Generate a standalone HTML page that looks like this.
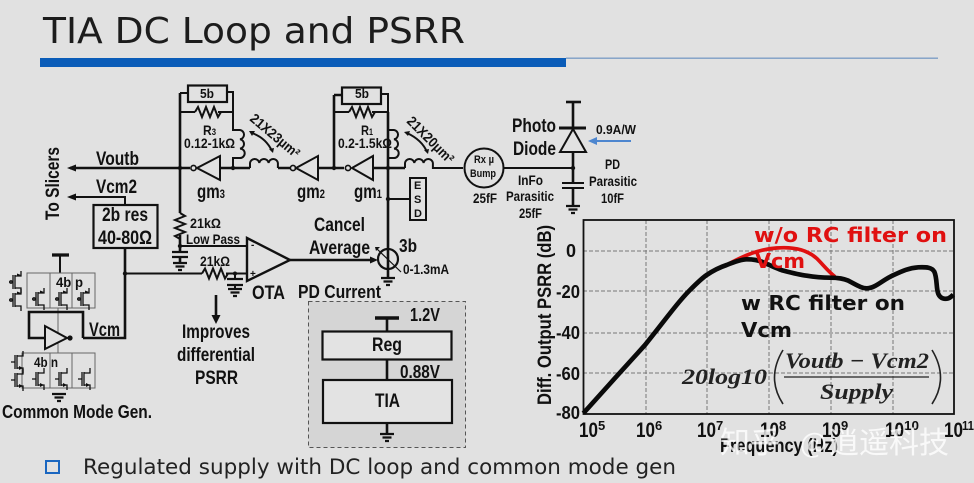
<!DOCTYPE html>
<html><head><meta charset="utf-8"><style>
html,body{margin:0;padding:0;background:#e1e1e1}
svg{display:block}
.n{font-family:"Liberation Sans",sans-serif;font-weight:bold;fill:#111}
.r{font-family:"Liberation Sans",sans-serif;fill:#111;font-weight:bold}
.d{font-family:"DejaVu Sans",sans-serif}
.w{fill:none;stroke:#111;stroke-width:2.6}
.t{fill:none;stroke:#111;stroke-width:2}
.g{fill:none;stroke:#666;stroke-width:1}
</style></head><body>
<svg width="974" height="483" viewBox="0 0 974 483" xmlns="http://www.w3.org/2000/svg">
<defs>
<g id="gnd"><path d="M-7,0H7M-4.500,3.500H4.500M-2,7H2" fill="none" stroke="#111" stroke-width="2.200"/></g>
<path id="res" d="M0,0l3,-5l4,10l4,-10l4,10l4,-10l4,10l3,-5" fill="none" stroke="#111" stroke-width="2"/>
<g id="pm"><path d="M-9,0h3M-5,-7V7M-3,-7V7M-3,-6H3V-11M-3,6H3V11" fill="none" stroke="#111" stroke-width="1.300"/><circle cx="-7" cy="0" r="1.400" fill="none" stroke="#111"/><path d="M3,-7l-4,-1.500v3z" fill="#111"/></g>
<g id="nm"><path d="M-9,0h4M-5,-7V7M-3,-7V7M-3,-6H3V-11M-3,6H3V11" fill="none" stroke="#111" stroke-width="1.300"/><path d="M3,6l-4,-2v4z" fill="#111"/></g>
</defs>
<rect width="974" height="483" fill="#e1e1e1"/>

<text class="d" x="43" y="43" font-size="36" fill="#1c1c1c" textLength="422" lengthAdjust="spacingAndGlyphs">TIA DC Loop and PSRR</text>
<rect x="40" y="58" width="526" height="9" fill="#0a5cb8"/>
<rect x="566" y="57.500" width="372" height="1.400" fill="#7f9fc6"/>

<!-- PD supply box -->
<rect x="308.500" y="301.500" width="157" height="146" fill="#d5d5d5" stroke="#555" stroke-width="1" stroke-dasharray="4 3"/>
<path d="M375,318H399" stroke="#111" stroke-width="3.400"/>
<path class="w" d="M387,318V331M387,359V380M387,423V433"/>
<rect x="322.500" y="331.500" width="129" height="28" fill="#e3e3e3" stroke="#111" stroke-width="2.200"/>
<rect x="323" y="380" width="129" height="43" fill="#e3e3e3" stroke="#111" stroke-width="2.200"/>
<use href="#gnd" x="387" y="434"/>
<text class="n" x="410" y="321" font-size="18" textLength="30" lengthAdjust="spacingAndGlyphs">1.2V</text>
<text class="n" x="372" y="351" font-size="19" textLength="30" lengthAdjust="spacingAndGlyphs">Reg</text>
<text class="n" x="400" y="378" font-size="18" textLength="40" lengthAdjust="spacingAndGlyphs">0.88V</text>
<text class="n" x="375" y="407" font-size="19" textLength="25" lengthAdjust="spacingAndGlyphs">TIA</text>

<!-- Left stage -->
<rect x="188" y="85.500" width="39" height="16.500" fill="none" stroke="#111" stroke-width="2.200"/>
<path class="t" d="M180,93H188M227,92H233V112M180,112H195M218,112H233"/>
<use href="#res" x="195" y="112"/>
<path class="t" d="M233,112V130H240a4.700,4.700 0 0 1 0,9.300a4.700,4.700 0 0 1 0,9.300a4.700,4.700 0 0 1 0,9.400H233V168"/>
<path class="w" d="M180,93V213M180,235V246M70,168H190"/>
<path d="M67,168l9,-3.500v7z" fill="#111"/>
<circle cx="180" cy="168" r="2.200" fill="#111"/>
<circle cx="193.500" cy="168" r="2.600" fill="#e1e1e1" stroke="#111" stroke-width="1.600"/>
<path d="M197,168L220,156V180Z" fill="none" stroke="#111" stroke-width="2"/>
<path class="w" d="M220,168H250M278,168H292"/>
<circle cx="233" cy="168" r="2.200" fill="#111"/>
<path class="t" d="M250,168V163a4.700,4.700 0 0 1 9.300,0a4.700,4.700 0 0 1 9.300,0a4.700,4.700 0 0 1 9.300,0V168"/>
<circle cx="293" cy="168" r="2.600" fill="#e1e1e1" stroke="#111" stroke-width="1.600"/>
<path d="M296,168L318,156V180Z" fill="none" stroke="#111" stroke-width="2"/>
<path class="w" d="M318,168H344"/>

<!-- Right stage -->
<rect x="342" y="87.500" width="39" height="16.500" fill="none" stroke="#111" stroke-width="2.200"/>
<path class="w" d="M334,95V168M334,95H342"/>
<path class="t" d="M381,94H388V112M334,112H349M372,112H388"/>
<use href="#res" x="349" y="112"/>
<path class="t" d="M388,130H394a4.700,4.700 0 0 1 0,9.300a4.700,4.700 0 0 1 0,9.300a4.700,4.700 0 0 1 0,9.400H388"/>
<circle cx="334" cy="168" r="2.200" fill="#111"/>
<circle cx="348" cy="168" r="2.600" fill="#e1e1e1" stroke="#111" stroke-width="1.600"/>
<path d="M352,168L373,156V180Z" fill="none" stroke="#111" stroke-width="2"/>
<path class="w" d="M373,168H405M388,112V250M388,270V278"/>
<circle cx="388" cy="168" r="2.200" fill="#111"/>
<circle cx="388" cy="199" r="2.200" fill="#111"/>
<path class="t" d="M388,199H410"/>
<rect x="410" y="178" width="16" height="42" fill="none" stroke="#111" stroke-width="2"/>
<path class="t" d="M405,168V163a4.700,4.700 0 0 1 9.300,0a4.700,4.700 0 0 1 9.300,0a4.700,4.700 0 0 1 9.300,0V168H463"/>
<path class="t" d="M503,168H573"/>
<circle cx="484" cy="168" r="19.500" fill="none" stroke="#111" stroke-width="2"/>

<!-- Photo diode -->
<path class="w" d="M573,102V128M573,152V183M573,188V205"/>
<path d="M566,102H581" stroke="#111" stroke-width="2.600"/>
<path d="M559,128H586" stroke="#111" stroke-width="3"/>
<path d="M573,129L560,152H586Z" fill="none" stroke="#111" stroke-width="2"/>
<path d="M562,183H584M562,188H584" stroke="#111" stroke-width="2"/>
<circle cx="573" cy="168" r="2.200" fill="#111"/>
<use href="#gnd" x="573" y="206"/>
<path d="M596,141H631" stroke="#4d86cf" stroke-width="2"/>
<path d="M588,141l9,-4v8z" fill="#4d86cf"/>

<!-- Vcm2 / res -->
<path class="t" d="M72,197H125V205"/>
<path d="M67,197l9,-3.500v7z" fill="#111"/>
<rect x="93.500" y="205" width="64" height="43" fill="none" stroke="#111" stroke-width="2.200"/>
<path class="w" d="M125,248V338H83"/>
<circle cx="125" cy="273.500" r="2.200" fill="#111"/>
<path class="t" d="M125,273.500H202M226,273.500H247"/>
<use href="#res" x="202" y="273.500"/>
<use href="#res" transform="translate(180,213) rotate(90)"/>

<!-- Low-pass caps -->
<circle cx="180" cy="246" r="2.200" fill="#111"/>
<path class="t" d="M180,246H247"/>
<path class="w" d="M180,246V251M180,258V262"/>
<path d="M172,252H188M172,257H188" stroke="#111" stroke-width="2.200"/>
<use href="#gnd" x="180" y="263"/>
<circle cx="235" cy="273.500" r="2" fill="#111"/>
<path class="t" d="M235,273.500V279M235,285V289"/>
<path d="M227,279H243M227,285H243" stroke="#111" stroke-width="2.200"/>
<use href="#gnd" x="235" y="289"/>

<!-- OTA -->
<path d="M247,238V281L290,260Z" fill="none" stroke="#111" stroke-width="2.400"/>
<path class="w" d="M290,260H372"/>
<path d="M378,260l-8,-3.500v7z" fill="#111"/>
<text class="n" x="251" y="248" font-size="10">-</text>
<text class="n" x="250" y="277" font-size="10">+</text>
<circle cx="388" cy="259" r="10" fill="none" stroke="#111" stroke-width="2.200"/>
<path d="M388,250V268" stroke="#111" stroke-width="2.600"/>
<path d="M376,248L401,272" stroke="#111" stroke-width="1.200"/>
<path d="M375,247l5,0l-4,4z" fill="#111"/>
<use href="#gnd" x="388" y="278"/>

<!-- Improves arrow -->
<path class="w" d="M216,295V318"/>
<path d="M216,324l-4.500,-9h9z" fill="#111"/>

<!-- Common mode gen -->
<path d="M52,255H69" stroke="#111" stroke-width="3.200"/>
<path class="t" d="M60,255V273"/>
<path class="g" d="M27,273H95V308H27ZM50,273V308M72,273V308M58,308V353"/>
<path class="g" d="M22,353H95V388H22ZM50,353V388M72,353V388"/>
<use href="#pm" x="18" y="282"/><use href="#pm" x="18" y="300"/>
<use href="#pm" x="41" y="299"/><use href="#pm" x="64" y="299"/><use href="#pm" x="86" y="299"/>
<use href="#nm" x="20" y="362"/><use href="#nm" x="20" y="380"/>
<use href="#nm" x="41" y="379"/><use href="#nm" x="64" y="379"/><use href="#nm" x="87" y="379"/>
<path d="M45,326V349L67,338Z" fill="#e1e1e1" stroke="#111" stroke-width="2"/>
<circle cx="70" cy="338" r="2.600" fill="#111"/>
<path class="w" d="M45,338H29V312H83V338"/>
<use href="#gnd" x="59" y="394"/>

<!-- Labels -->
<text class="n" x="96" y="165" font-size="19" textLength="43" lengthAdjust="spacingAndGlyphs">Voutb</text>
<text class="n" x="96" y="193" font-size="19" textLength="41" lengthAdjust="spacingAndGlyphs">Vcm2</text>
<text class="n" transform="translate(59,220) rotate(-90)" font-size="19" textLength="73" lengthAdjust="spacingAndGlyphs">To Slicers</text>
<text class="n" x="102" y="221" font-size="19" textLength="46" lengthAdjust="spacingAndGlyphs">2b res</text>
<text class="n" x="98" y="244" font-size="19" textLength="54" lengthAdjust="spacingAndGlyphs">40-80Ω</text>
<text class="r" x="200" y="98" font-size="13" textLength="14" lengthAdjust="spacingAndGlyphs">5b</text>
<text class="r" x="203" y="135" font-size="14" textLength="13" lengthAdjust="spacingAndGlyphs">R<tspan font-size="9">3</tspan></text>
<text class="r" x="184" y="148" font-size="14" textLength="51" lengthAdjust="spacingAndGlyphs">0.12-1kΩ</text>
<text class="n" x="197" y="198" font-size="19" textLength="28" lengthAdjust="spacingAndGlyphs">gm<tspan font-size="12">3</tspan></text>
<text class="n" x="297" y="198" font-size="19" textLength="28" lengthAdjust="spacingAndGlyphs">gm<tspan font-size="12">2</tspan></text>
<text class="n" x="354" y="198" font-size="19" textLength="28" lengthAdjust="spacingAndGlyphs">gm<tspan font-size="12">1</tspan></text>
<text class="r" x="355" y="98" font-size="13" textLength="14" lengthAdjust="spacingAndGlyphs">5b</text>
<text class="r" x="361" y="135" font-size="14" textLength="12" lengthAdjust="spacingAndGlyphs">R<tspan font-size="9">1</tspan></text>
<text class="r" x="338" y="148" font-size="14" textLength="54" lengthAdjust="spacingAndGlyphs">0.2-1.5kΩ</text>
<text class="r" transform="translate(249,120) rotate(40)" font-size="14" textLength="60" lengthAdjust="spacingAndGlyphs">21X23µm²</text>
<text class="r" transform="translate(406,122) rotate(45)" font-size="14" textLength="60" lengthAdjust="spacingAndGlyphs">21X20µm²</text>
<path class="t" d="M252,133Q266,138 272,151"/>
<path d="M249,131l6,0l-3,5zM273,153l-4,-4l5,-1z" fill="#111"/>
<path class="t" d="M407,133Q422,140 427,152"/>
<path d="M404,132l6,-1l-2,5zM428,154l-4,-4l5,-1z" fill="#111"/>
<text class="r" x="414" y="189" font-size="11">E</text>
<text class="r" x="414" y="203" font-size="11">S</text>
<text class="r" x="414" y="217" font-size="11">D</text>
<text class="r" x="190" y="228" font-size="14" textLength="31" lengthAdjust="spacingAndGlyphs">21kΩ</text>
<text class="r" x="186" y="244" font-size="14" textLength="54" lengthAdjust="spacingAndGlyphs">Low Pass</text>
<text class="r" x="200" y="266" font-size="14" textLength="30" lengthAdjust="spacingAndGlyphs">21kΩ</text>
<text class="n" x="252" y="299" font-size="19" textLength="33" lengthAdjust="spacingAndGlyphs">OTA</text>
<text class="n" x="298" y="298" font-size="18" textLength="83" lengthAdjust="spacingAndGlyphs">PD Current</text>
<text class="n" x="314" y="231" font-size="19" textLength="51" lengthAdjust="spacingAndGlyphs">Cancel</text>
<text class="n" x="309" y="254" font-size="19" textLength="61" lengthAdjust="spacingAndGlyphs">Average</text>
<text class="n" x="399" y="252" font-size="18" textLength="18" lengthAdjust="spacingAndGlyphs">3b</text>
<text class="r" x="403" y="274" font-size="14" textLength="46" lengthAdjust="spacingAndGlyphs">0-1.3mA</text>
<text class="n" x="182" y="338" font-size="19" textLength="68" lengthAdjust="spacingAndGlyphs">Improves</text>
<text class="n" x="177" y="361" font-size="19" textLength="78" lengthAdjust="spacingAndGlyphs">differential</text>
<text class="n" x="195" y="384" font-size="19" textLength="43" lengthAdjust="spacingAndGlyphs">PSRR</text>
<text class="n" x="89" y="336" font-size="19" textLength="31" lengthAdjust="spacingAndGlyphs">Vcm</text>
<text class="r" x="56" y="287" font-size="14" textLength="27" lengthAdjust="spacingAndGlyphs">4b p</text>
<text class="r" x="34" y="367" font-size="14" textLength="24" lengthAdjust="spacingAndGlyphs">4b n</text>
<text class="n" x="2" y="418" font-size="18.500" textLength="150" lengthAdjust="spacingAndGlyphs">Common Mode Gen.</text>
<text class="r" x="474" y="163" font-size="11" textLength="20" lengthAdjust="spacingAndGlyphs">Rx µ</text>
<text class="r" x="470" y="177" font-size="11" textLength="26" lengthAdjust="spacingAndGlyphs">Bump</text>
<text class="r" x="473" y="203" font-size="14" textLength="24" lengthAdjust="spacingAndGlyphs">25fF</text>
<text class="r" x="518" y="185" font-size="14" textLength="25" lengthAdjust="spacingAndGlyphs">InFo</text>
<text class="r" x="506" y="201" font-size="14" textLength="48" lengthAdjust="spacingAndGlyphs">Parasitic</text>
<text class="r" x="519" y="218" font-size="14" textLength="23" lengthAdjust="spacingAndGlyphs">25fF</text>
<text class="n" x="512" y="132" font-size="19" textLength="44" lengthAdjust="spacingAndGlyphs">Photo</text>
<text class="n" x="513" y="155" font-size="19" textLength="43" lengthAdjust="spacingAndGlyphs">Diode</text>
<text class="r" x="596" y="134" font-size="13" textLength="40" lengthAdjust="spacingAndGlyphs">0.9A/W</text>
<text class="r" x="605" y="169" font-size="14" textLength="15" lengthAdjust="spacingAndGlyphs">PD</text>
<text class="r" x="589" y="186" font-size="14" textLength="48" lengthAdjust="spacingAndGlyphs">Parasitic</text>
<text class="r" x="601" y="203" font-size="14" textLength="23" lengthAdjust="spacingAndGlyphs">10fF</text>

<!-- Chart -->
<path d="M646,220V414M707,220V414M769,220V414M831,220V414M893,220V414M583,251H954M583,291H954M583,333H954M583,373H954" fill="none" stroke="#777" stroke-width="1" stroke-dasharray="4 2"/>
<rect x="583.500" y="220" width="370.500" height="194" fill="none" stroke="#111" stroke-width="1.800"/>
<g transform="translate(530,210) scale(.33333)">
<path d="M590,165C630,143 680,118 740,114C790,110 830,118 860,145C880,165 895,185 915,200" fill="none" stroke="#e01010" stroke-width="11"/>
<path d="M160,610L250,510L345,405C375,368 400,335 420,310C445,278 465,255 480,240C500,220 515,205 530,195C555,178 575,170 590,165C615,155 635,148 650,148C670,148 685,150 700,157C725,168 745,178 760,182C790,190 810,195 830,197C860,202 885,203 900,203C925,203 940,205 955,212C980,225 995,235 1010,235C1035,235 1055,212 1085,198C1115,184 1135,174 1165,172C1190,171 1205,172 1213,185C1222,205 1218,235 1225,252C1232,267 1245,268 1255,265C1262,262 1266,258 1270,254" fill="none" stroke="#0a0a0a" stroke-width="14" stroke-linejoin="round"/>
</g>
<text class="n" x="566" y="257" font-size="18">0</text>
<text class="n" x="556" y="298" font-size="18" textLength="24" lengthAdjust="spacingAndGlyphs">-20</text>
<text class="n" x="556" y="339" font-size="18" textLength="24" lengthAdjust="spacingAndGlyphs">-40</text>
<text class="n" x="556" y="380" font-size="18" textLength="24" lengthAdjust="spacingAndGlyphs">-60</text>
<text class="n" x="556" y="419" font-size="18" textLength="24" lengthAdjust="spacingAndGlyphs">-80</text>
<text class="n" x="579" y="437" font-size="21" textLength="19" lengthAdjust="spacingAndGlyphs">10</text><text class="n" x="598" y="430" font-size="13">5</text>
<text class="n" x="636" y="437" font-size="21" textLength="19" lengthAdjust="spacingAndGlyphs">10</text><text class="n" x="655" y="430" font-size="13">6</text>
<text class="n" x="697" y="437" font-size="21" textLength="19" lengthAdjust="spacingAndGlyphs">10</text><text class="n" x="716" y="430" font-size="13">7</text>
<text class="n" x="760" y="437" font-size="21" textLength="19" lengthAdjust="spacingAndGlyphs">10</text><text class="n" x="779" y="430" font-size="13">8</text>
<text class="n" x="822" y="437" font-size="21" textLength="19" lengthAdjust="spacingAndGlyphs">10</text><text class="n" x="841" y="430" font-size="13">9</text>
<text class="n" x="885" y="437" font-size="21" textLength="19" lengthAdjust="spacingAndGlyphs">10</text><text class="n" x="904" y="430" font-size="13" textLength="15" lengthAdjust="spacingAndGlyphs">10</text>
<text class="n" x="944" y="437" font-size="21" textLength="19" lengthAdjust="spacingAndGlyphs">10</text><text class="n" x="962" y="430" font-size="13" textLength="12" lengthAdjust="spacingAndGlyphs">11</text>
<text class="n" transform="translate(551,405) rotate(-90)" font-size="19" textLength="180" lengthAdjust="spacingAndGlyphs">Diff. Output PSRR (dB)</text>
<text class="n" x="720" y="452" font-size="19" textLength="118" lengthAdjust="spacingAndGlyphs">Frequency (Hz)</text>
<text class="d" x="754" y="242" font-size="20" font-weight="bold" fill="#e01010" textLength="193" lengthAdjust="spacingAndGlyphs">w/o RC filter on</text>
<text class="d" x="755" y="268" font-size="20" font-weight="bold" fill="#e01010" textLength="50" lengthAdjust="spacingAndGlyphs">Vcm</text>
<text class="d" x="741" y="310" font-size="20" font-weight="bold" fill="#111" textLength="164" lengthAdjust="spacingAndGlyphs">w RC filter on</text>
<text class="d" x="741" y="337" font-size="20" font-weight="bold" fill="#111" textLength="51" lengthAdjust="spacingAndGlyphs">Vcm</text>
<g font-family="'Liberation Serif',serif" font-weight="bold" font-style="italic" fill="#222">
<text x="682" y="384" font-size="22" textLength="85" lengthAdjust="spacingAndGlyphs">20log10</text>
<text x="785" y="368" font-size="22" textLength="144" lengthAdjust="spacingAndGlyphs">Voutb − Vcm2</text>
<text x="820" y="399" font-size="22" textLength="73" lengthAdjust="spacingAndGlyphs">Supply</text>
</g>
<path d="M784,377H929" stroke="#222" stroke-width="1.300"/>
<path d="M783,350Q766,378 783,404M932,350Q949,378 932,404" fill="none" stroke="#222" stroke-width="1.600"/>

<!-- Footer -->
<rect x="46" y="461" width="13" height="12" fill="none" stroke="#1a66c0" stroke-width="2"/>
<text class="d" x="83" y="474" font-size="21" fill="#222" textLength="593" lengthAdjust="spacingAndGlyphs">Regulated supply with DC loop and common mode gen</text>

<!-- Watermark -->
<g font-family="'Noto Sans CJK SC','WenQuanYi Zen Hei',sans-serif" font-size="30" fill="#fff" fill-opacity=".78">
<text x="720" y="453">知乎</text>
<text x="800" y="453" font-size="28">@</text>
<text x="829" y="453">逍遥科技</text>
</g>
</svg>
</body></html>
